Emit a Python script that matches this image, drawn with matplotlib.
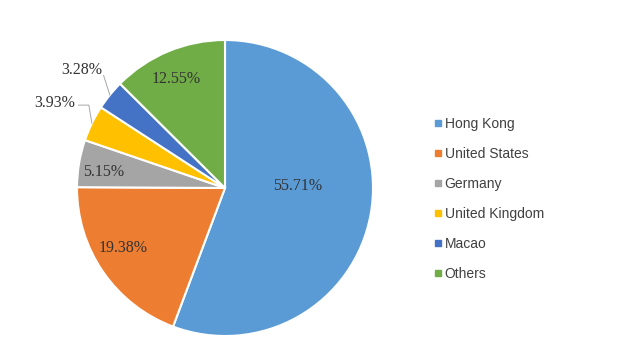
import numpy as np
import matplotlib
matplotlib.use('Agg')
import matplotlib.pyplot as plt
from matplotlib.lines import Line2D

countries = ['Hong Kong', 'United States', 'Germany', 'United Kingdom', 'Macao', 'Others']
shares = [55.71, 19.38, 5.15, 3.93, 3.28, 12.55]
colors = ['#5B9BD5', '#ED7D31', '#A5A5A5', '#FFC000', '#4472C4', '#70AD47']

fig = plt.figure(figsize=(6.31, 3.63), dpi=100)
cx, cy, r = 225 / 631, 1 - 188 / 363, 148
ax = fig.add_axes([cx - r / 631, cy - r / 363, 2 * r / 631, 2 * r / 363])

wedges, _ = ax.pie(shares, colors=colors, startangle=90, counterclock=False,
                   wedgeprops=dict(edgecolor='white', linewidth=1.5))
ax.set_xlim(-1, 1)
ax.set_ylim(-1, 1)
ax.set_aspect('auto')
ax.axis('off')

label_font = dict(family='Liberation Serif', size=11.5, color='#333333')
# label placement (radius, angle shift in degrees) for labels drawn inside the wedges
inside = {0: (0.49, 12), 1: (0.80, -4), 2: (0.83, 2), 5: (0.81, 1.5)}
for i, w in enumerate(wedges):
    mid = (w.theta1 + w.theta2) / 2
    txt = f'{shares[i]:.2f}%'
    if i in inside:
        rr, da = inside[i]
        a = np.deg2rad(mid + da)
        ax.text(rr * np.cos(a), rr * np.sin(a), txt, ha='center', va='center', **label_font)
    else:
        ex, ey = np.cos(np.deg2rad(mid)), np.sin(np.deg2rad(mid))
        if i == 4:
            ax.plot([ex, -0.82], [ey, 0.76], color='#a6a6a6', lw=0.7)
            ax.text(-0.83, 0.80, txt, ha='right', va='center', **label_font)
        else:
            ax.plot([ex, -0.92, -0.99], [ey, 0.56, 0.56], color='#a6a6a6', lw=0.7)
            ax.text(-1.01, 0.575, txt, ha='right', va='center', **label_font)

handles = [Line2D([], [], marker='s', linestyle='', markersize=5, color=c) for c in colors]
leg = fig.legend(handles, countries, loc='center left', bbox_to_anchor=(421 / 631, 1 - 199 / 363),
                 frameon=False, handlelength=0.6, handletextpad=0.2, labelspacing=1.16,
                 prop=dict(family='Liberation Sans', size=10))
for t in leg.get_texts():
    t.set_color('#404040')

fig.savefig('out.png', dpi=100)
